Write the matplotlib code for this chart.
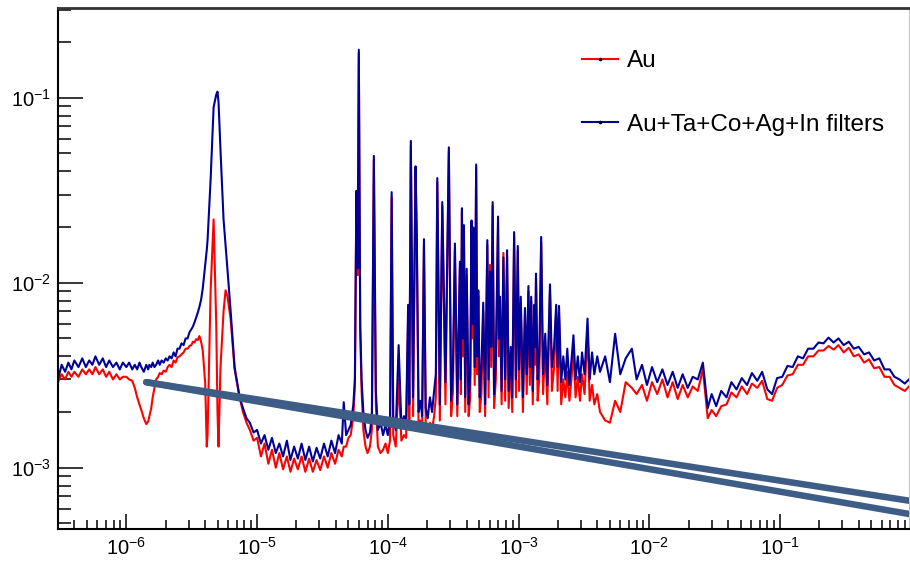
import numpy as np
import matplotlib
matplotlib.use("Agg")
import matplotlib.pyplot as plt
from matplotlib.lines import Line2D
from matplotlib.ticker import LogLocator, NullFormatter, FixedLocator

plt.rcParams['font.family'] = 'Liberation Sans'
plt.rcParams['mathtext.fontset'] = 'custom'
plt.rcParams['mathtext.rm'] = 'Liberation Sans'
plt.rcParams['mathtext.it'] = 'Liberation Sans:italic'
plt.rcParams['mathtext.bf'] = 'Liberation Sans:bold'

# neutron energy (eV), shared binning of both spectra
energy = [
    3.0e-7, 3.2e-7, 3.4e-7, 3.6e-7, 3.8e-7, 4.0e-7, 4.3e-7, 4.6e-7, 4.9e-7, 5.2e-7,
    5.5e-7, 5.8e-7, 6.2e-7, 6.6e-7, 7.0e-7, 7.4e-7, 7.9e-7, 8.4e-7, 8.9e-7, 9.4e-7,
    1.0e-6, 1.05e-6, 1.11e-6, 1.16e-6, 1.21e-6, 1.26e-6, 1.30e-6, 1.36e-6, 1.42e-6, 1.47e-6,
    1.50e-6, 1.55e-6, 1.59e-6, 1.64e-6, 1.69e-6, 1.75e-6, 1.80e-6, 1.86e-6, 1.93e-6, 2.0e-6,
    2.07e-6, 2.14e-6, 2.22e-6, 2.30e-6, 2.38e-6, 2.46e-6, 2.55e-6, 2.64e-6, 2.74e-6, 2.84e-6,
    2.94e-6, 3.04e-6, 3.14e-6, 3.23e-6, 3.32e-6, 3.42e-6,
    3.52e-6, 3.62e-6, 3.73e-6, 3.84e-6, 4.01e-6, 4.12e-6, 4.18e-6, 4.33e-6, 4.41e-6, 4.65e-6,
    4.87e-6, 4.98e-6, 5.07e-6, 5.25e-6, 5.54e-6, 5.74e-6, 5.94e-6, 6.27e-6, 6.73e-6, 7.35e-6,
    7.8e-6, 8.3e-6, 8.8e-6, 9.4e-6, 1.0e-5, 1.07e-5, 1.14e-5, 1.22e-5, 1.30e-5, 1.39e-5,
    1.48e-5, 1.58e-5, 1.69e-5, 1.80e-5, 1.92e-5, 2.05e-5, 2.19e-5, 2.34e-5, 2.50e-5, 2.67e-5,
    2.85e-5, 3.04e-5, 3.25e-5, 3.47e-5, 3.70e-5, 3.95e-5, 4.20e-5, 4.45e-5, 4.60e-5, 4.80e-5,
    5.0e-5,
    5.2e-5, 5.45e-5, 5.6e-5, 5.75e-5, 5.88e-5, 6.0e-5, 6.15e-5, 6.3e-5, 6.5e-5, 6.75e-5,
    7.0e-5, 7.3e-5, 7.55e-5, 7.82e-5, 8.1e-5, 8.4e-5, 8.8e-5, 9.2e-5, 9.6e-5, 1.0e-4,
    1.04e-4, 1.07e-4, 1.10e-4, 1.15e-4, 1.21e-4, 1.27e-4, 1.33e-4, 1.38e-4, 1.43e-4, 1.46e-4,
    1.50e-4, 1.56e-4, 1.63e-4, 1.665e-4, 1.72e-4, 1.78e-4, 1.83e-4, 1.89e-4, 1.95e-4, 2.02e-4,
    2.10e-4, 2.18e-4, 2.26e-4, 2.33e-4, 2.39e-4, 2.50e-4, 2.61e-4, 2.76e-4, 2.93e-4, 3.05e-4,
    3.15e-4, 3.26e-4, 3.40e-4, 3.56e-4, 3.62e-4, 3.69e-4, 3.75e-4, 3.82e-4, 3.91e-4, 4.01e-4,
    4.15e-4, 4.27e-4, 4.37e-4, 4.44e-4, 4.51e-4, 4.62e-4, 4.74e-4, 4.83e-4, 4.92e-4, 5.05e-4,
    5.20e-4, 5.37e-4, 5.55e-4, 5.77e-4, 5.90e-4, 6.05e-4, 6.18e-4, 6.34e-4, 6.50e-4, 6.70e-4,
    6.97e-4, 7.08e-4, 7.21e-4, 7.42e-4, 7.66e-4, 7.90e-4, 8.17e-4, 8.40e-4, 8.71e-4, 8.95e-4,
    9.25e-4, 9.55e-4, 9.87e-4, 1.01e-3, 1.04e-3, 1.08e-3, 1.12e-3, 1.155e-3, 1.19e-3, 1.22e-3,
    1.25e-3, 1.285e-3, 1.32e-3, 1.34e-3, 1.36e-3, 1.40e-3, 1.44e-3, 1.49e-3, 1.54e-3, 1.60e-3,
    1.66e-3, 1.74e-3, 1.80e-3, 1.87e-3, 1.94e-3, 1.99e-3, 2.04e-3, 2.12e-3, 2.20e-3, 2.28e-3,
    2.36e-3, 2.45e-3, 2.54e-3, 2.63e-3, 2.73e-3, 2.84e-3, 2.95e-3, 3.06e-3, 3.20e-3, 3.37e-3,
    3.50e-3, 3.65e-3, 3.80e-3, 4.0e-3,
    4.2e-3, 4.6e-3, 5.0e-3, 5.48e-3, 6.0e-3, 6.6e-3, 7.36e-3, 8.0e-3, 8.8e-3, 9.6e-3,
    1.05e-2, 1.15e-2, 1.26e-2, 1.38e-2, 1.51e-2, 1.65e-2, 1.80e-2, 1.97e-2, 2.15e-2, 2.35e-2,
    2.57e-2, 2.80e-2, 3.00e-2, 3.25e-2, 3.55e-2, 3.90e-2, 4.25e-2, 4.65e-2, 5.10e-2, 5.60e-2,
    6.10e-2, 6.70e-2, 7.30e-2, 8.00e-2, 8.70e-2, 9.50e-2, 0.104, 0.114, 0.125, 0.137,
    0.150, 0.164, 0.180, 0.197, 0.215, 0.235, 0.257, 0.280, 0.307, 0.336,
    0.367, 0.400, 0.440, 0.480, 0.525, 0.575, 0.630, 0.690, 0.750, 0.820,
    0.900, 0.970,
]

# counts per bin, in units of 1e-3
au = [
    2.9, 3.2, 3.0, 3.3, 3.1, 3.3, 3.1, 3.4, 3.2, 3.4,
    3.2, 3.5, 3.2, 3.4, 3.1, 3.3, 3.0, 3.2, 3.0, 3.1,
    3.1, 3.0, 2.95, 2.7, 2.4, 2.2, 2.05, 1.85, 1.72, 1.78,
    1.9, 2.1, 2.4, 2.7, 3.0, 3.1, 3.25, 3.2, 3.35, 3.3,
    3.5, 3.6, 3.5, 3.8, 3.7, 3.95, 4.0, 4.1, 4.2, 4.4,
    4.4, 4.55, 4.6, 4.8, 4.75, 4.95,
    4.9, 5.15, 4.8, 4.3, 2.87, 1.3, 1.5, 5.0, 9.0, 22.0,
    6.0, 2.0, 1.3, 3.5, 7.0, 9.1, 8.4, 6.4, 3.4, 2.4,
    2.0, 1.75, 1.6, 1.4, 1.45, 1.15, 1.35, 1.05, 1.25, 1.0,
    1.2, 0.98, 1.15, 0.95, 1.12, 0.98, 1.15, 0.95, 1.12, 0.95,
    1.1, 0.97, 1.15, 1.0, 1.2, 1.05, 1.25, 1.15, 1.3, 1.3,
    1.45,
    1.5, 1.9, 2.8, 30.0, 11.0, 175.0, 5.5, 2.6, 1.6, 1.3,
    1.2, 1.3, 1.6, 46.0, 2.2, 1.3, 1.2, 1.25, 1.35, 1.2,
    1.4, 29.0, 1.5, 1.3, 3.0, 1.4, 1.5, 1.45, 6.5, 1.8,
    55.0, 1.9, 40.0, 17.0, 1.6, 1.8, 1.6, 16.0, 1.7, 1.55,
    1.75, 1.6, 1.9, 2.4, 35.0, 1.8, 26.0, 2.2, 52.0, 1.9,
    2.6, 15.0, 1.9, 12.0, 2.5, 24.0, 4.0, 19.0, 2.0, 11.0,
    1.9, 2.4, 20.0, 5.0, 19.0, 2.8, 42.0, 3.2, 8.5, 2.0,
    2.5, 7.0, 1.9, 16.0, 2.4, 12.5, 3.5, 26.0, 2.1, 3.0,
    21.0, 4.0, 7.8, 2.2, 14.5, 2.3, 14.0, 2.1, 3.8, 2.0,
    18.0, 2.4, 15.0, 2.6, 7.8, 2.0, 6.8, 2.5, 9.0, 2.8,
    7.9, 2.2, 7.0, 3.6, 10.5, 2.3, 3.0, 16.5, 2.5, 4.5,
    2.2, 9.2, 2.6, 3.5, 7.0, 2.6, 6.8, 2.2, 3.0, 2.4,
    3.3, 2.3, 3.0, 4.3, 2.4, 3.1, 2.3, 3.2, 2.5, 5.5,
    2.3, 2.8, 2.2, 2.5,
    2.0, 1.8, 1.75, 2.3, 2.0, 2.9, 2.7, 2.5, 2.8, 2.3,
    2.9, 2.5, 3.0, 2.4, 2.9, 2.35, 2.8, 2.4, 2.75, 2.6,
    3.4, 1.85, 2.05, 1.9, 2.15, 2.2, 2.55, 2.4, 2.75, 2.5,
    2.85, 2.7, 2.95, 2.35, 2.3, 2.7, 2.8, 3.15, 3.2, 3.6,
    3.6, 4.0, 4.0, 4.3, 4.3, 4.55, 4.35, 4.6, 4.2, 4.45,
    4.0, 4.1, 3.7, 3.85, 3.45, 3.5, 3.1, 3.1, 2.8, 2.7,
    2.6, 2.75,
]

au_filters = [
    3.0, 3.6, 3.3, 3.7, 3.4, 3.8, 3.5, 3.9, 3.5, 3.8,
    3.6, 4.0, 3.6, 3.9, 3.5, 3.8, 3.5, 3.7, 3.4, 3.7,
    3.5, 3.7, 3.4, 3.6, 3.4, 3.7, 3.5, 3.3, 3.6, 3.4,
    3.6, 3.5, 3.7, 3.5, 3.6, 3.8, 3.6, 3.8, 3.7, 3.9,
    3.8, 4.0, 3.9, 4.2, 4.0, 4.4, 4.4, 4.7, 4.6, 5.0,
    5.0, 5.4, 5.6, 5.8, 6.1, 6.5,
    6.9, 7.4, 8.1, 9.3, 12.5, 15.0, 17.0, 28.0, 36.0, 89.0,
    104.0, 108.0, 95.0, 52.0, 22.0, 16.0, 11.7, 7.1, 3.5, 2.4,
    2.1, 1.85, 1.75, 1.55, 1.6, 1.35, 1.5, 1.25, 1.45, 1.2,
    1.35, 1.15, 1.4, 1.1, 1.3, 1.12, 1.35, 1.1, 1.3, 1.08,
    1.28, 1.12, 1.35, 1.15, 1.4, 1.2, 1.5, 1.35, 2.26, 1.5,
    1.6,
    1.7, 2.2, 3.0, 31.4, 12.0, 182.0, 6.0, 3.0, 2.0, 1.6,
    1.45, 1.55, 1.9, 48.5, 2.6, 1.6, 1.75, 1.5, 1.7, 1.5,
    1.8, 30.9, 1.9, 1.6, 4.6, 1.7, 1.9, 1.75, 7.6, 2.2,
    58.5, 2.4, 42.6, 18.7, 2.0, 2.3, 1.9, 17.2, 2.1, 1.85,
    2.4, 2.0, 2.6, 3.2, 36.8, 2.2, 27.3, 2.9, 54.0, 2.3,
    3.5, 16.3, 2.2, 13.0, 3.0, 25.3, 5.0, 20.5, 2.4, 11.9,
    2.2, 3.2, 21.7, 6.0, 19.9, 3.5, 43.6, 4.0, 9.1, 2.4,
    3.5, 7.8, 2.2, 17.0, 3.0, 11.5, 4.5, 27.3, 2.5, 3.8,
    22.8, 5.0, 8.4, 2.6, 13.7, 3.0, 15.0, 2.6, 4.5, 2.4,
    18.8, 3.0, 15.8, 3.4, 8.4, 2.4, 7.3, 3.2, 9.6, 3.5,
    8.4, 2.6, 7.6, 4.5, 11.2, 3.0, 4.0, 17.7, 3.2, 5.3,
    2.8, 9.8, 3.5, 4.5, 7.6, 3.5, 7.5, 2.9, 4.0, 3.0,
    4.4, 2.8, 3.8, 5.2, 3.0, 4.0, 2.9, 4.2, 3.2, 6.4,
    3.0, 4.2, 3.2, 4.0,
    3.3, 4.0, 2.9, 5.3, 3.2, 3.9, 4.4, 3.0, 3.6, 2.8,
    3.5, 2.9, 3.4, 2.8, 3.3, 2.7, 3.2, 2.7, 3.1, 3.0,
    3.7, 2.1, 2.5, 2.15, 2.6, 2.4, 2.9, 2.65, 3.05, 2.8,
    3.25, 2.95, 3.3, 2.65, 2.5, 3.05, 3.1, 3.55, 3.5, 4.0,
    3.9, 4.4, 4.4, 4.75, 4.7, 5.05, 4.75, 5.0, 4.6, 4.8,
    4.4, 4.5, 4.1, 4.2, 3.8, 3.9, 3.4, 3.4, 3.1, 3.0,
    2.85, 3.0,
]

count_unit = 1e-3

# two straight guide lines drawn across the spectra
slash_energy = [1.42e-6, 0.97]
slash_upper = [2.9e-3, 6.63e-4]
slash_lower = [2.9e-3, 5.62e-4]

x_decades = [1e-6, 1e-5, 1e-4, 1e-3, 1e-2, 1e-1]
y_decades = [1e-3, 1e-2, 1e-1]

fig = plt.figure(figsize=(9.1, 5.62), dpi=100)
ax = fig.add_axes([58 / 910, 33 / 562, 851 / 910, 521 / 562])

au_y = np.array(au) * count_unit
filt_y = np.array(au_filters) * count_unit

ax.plot(energy, au_y, color='#ff0000', lw=1.5, zorder=2)
ax.plot(energy, filt_y, color='#000099', lw=1.5, zorder=2.1)

for ys in (slash_upper, slash_lower):
    ax.plot(slash_energy, ys, color='#3e5d86', lw=4.7,
            solid_capstyle='round', zorder=3)

ax.set_xscale('log')
ax.set_yscale('log')
ax.set_xlim(3e-7, 0.97)
ax.set_ylim(4.66e-4, 0.306)

ax.xaxis.set_major_locator(FixedLocator(x_decades))
ax.xaxis.set_minor_locator(LogLocator(base=10, subs=np.arange(2, 10), numticks=20))
ax.yaxis.set_major_locator(FixedLocator(y_decades))
ax.yaxis.set_minor_locator(LogLocator(base=10, subs=np.arange(2, 10), numticks=20))
ax.xaxis.set_minor_formatter(NullFormatter())
ax.yaxis.set_minor_formatter(NullFormatter())

ax.tick_params(axis='x', which='major', direction='in', length=11, width=1.1,
               labelsize=14.5, pad=6, top=False)
ax.tick_params(axis='x', which='minor', direction='in', length=6.3, width=1.1, top=False)
ax.tick_params(axis='y', which='major', direction='in', length=18, width=1.1,
               labelsize=14.5, pad=5, right=False)
ax.tick_params(axis='y', which='minor', direction='in', length=9, width=1.1, right=False)

ax.spines['left'].set_linewidth(1.5)
ax.spines['bottom'].set_linewidth(1.5)
ax.spines['top'].set_linewidth(2)
ax.spines['top'].set_color('#333333')
ax.spines['right'].set_linewidth(0.8)
ax.spines['right'].set_color('#c4c4c4')

handles = [
    Line2D([], [], color='#ff0000', lw=1.5, marker='o', markersize=1.6,
           markerfacecolor='black', markeredgecolor='black'),
    Line2D([], [], color='#000099', lw=1.5, marker='o', markersize=1.6,
           markerfacecolor='black', markeredgecolor='black'),
]
ax.legend(handles, ['Au', 'Au+Ta+Co+Ag+In filters'], loc='upper left',
          bbox_to_anchor=(582 / 910, 512 / 562), bbox_transform=fig.transFigure,
          frameon=False, fontsize=17.5, handlelength=1.48, handletextpad=0.36,
          labelspacing=1.72, borderpad=0, borderaxespad=0, numpoints=1)

fig.savefig('out.png', dpi=100)
